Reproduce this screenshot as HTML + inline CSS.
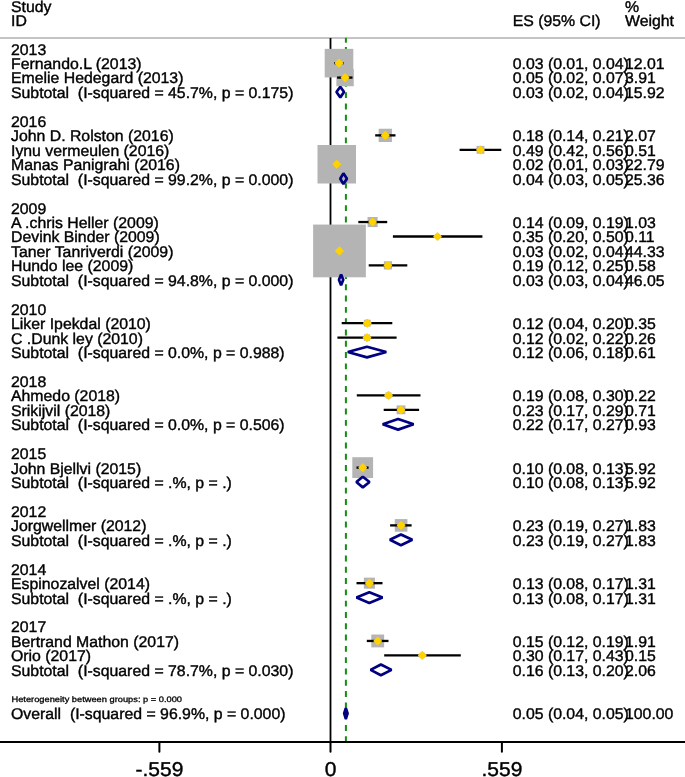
<!DOCTYPE html>
<html><head><meta charset="utf-8"><style>
html,body{margin:0;padding:0;background:#fff;}
svg{display:block;}
.t{opacity:0.999;}
text{font-family:"Liberation Sans",sans-serif;font-size:15.5px;fill:#000;white-space:pre;text-rendering:geometricPrecision;stroke:#000;stroke-width:0.4px;}
.tk{font-size:20px;}
.sm{font-size:8px;stroke-width:0.3px;}
</style></head><body>
<svg width="685" height="777" viewBox="0 0 685 777">
<rect x="0" y="37" width="685" height="2" fill="#c4c4c4"/>
<line x1="330.50" y1="38" x2="330.50" y2="742.00" stroke="#000" stroke-width="1.8"/>
<line x1="345.90" y1="37.8" x2="345.90" y2="42.7" stroke="#109010" stroke-width="2"/>
<line x1="345.90" y1="47.0" x2="345.90" y2="742.00" stroke="#109010" stroke-width="2" stroke-dasharray="5.9 5.4"/>
<rect x="324.70" y="48.85" width="28.60" height="28.60" fill="#b4b4b4"/>
<rect x="336.38" y="68.92" width="17.35" height="17.35" fill="#b4b4b4"/>
<rect x="378.66" y="128.73" width="13.28" height="13.28" fill="#b4b4b4"/>
<rect x="476.55" y="145.92" width="7.80" height="7.80" fill="#b4b4b4"/>
<rect x="317.50" y="145.01" width="38.49" height="38.49" fill="#b4b4b4"/>
<rect x="367.56" y="217.00" width="10.07" height="10.07" fill="#b4b4b4"/>
<rect x="435.05" y="234.03" width="4.91" height="4.91" fill="#b4b4b4"/>
<rect x="313.13" y="224.56" width="52.74" height="52.74" fill="#b4b4b4"/>
<rect x="383.82" y="261.30" width="8.16" height="8.16" fill="#b4b4b4"/>
<rect x="363.86" y="319.72" width="6.87" height="6.87" fill="#b4b4b4"/>
<rect x="363.87" y="334.47" width="6.25" height="6.25" fill="#b4b4b4"/>
<rect x="385.53" y="392.41" width="5.95" height="5.95" fill="#b4b4b4"/>
<rect x="396.61" y="405.44" width="8.77" height="8.77" fill="#b4b4b4"/>
<rect x="352.30" y="457.21" width="20.79" height="20.79" fill="#b4b4b4"/>
<rect x="394.79" y="519.07" width="12.63" height="12.63" fill="#b4b4b4"/>
<rect x="363.87" y="577.64" width="11.05" height="11.05" fill="#b4b4b4"/>
<rect x="371.28" y="634.52" width="12.85" height="12.85" fill="#b4b4b4"/>
<rect x="419.64" y="652.73" width="5.33" height="5.33" fill="#b4b4b4"/>
<line x1="334.20" y1="63.15" x2="343.60" y2="63.15" stroke="#000" stroke-width="2.3"/>
<line x1="337.10" y1="77.59" x2="352.50" y2="77.59" stroke="#000" stroke-width="2.3"/>
<line x1="375.20" y1="135.37" x2="395.50" y2="135.37" stroke="#000" stroke-width="2.3"/>
<line x1="459.60" y1="149.81" x2="501.30" y2="149.81" stroke="#000" stroke-width="2.3"/>
<line x1="333.70" y1="164.26" x2="339.80" y2="164.26" stroke="#000" stroke-width="2.3"/>
<line x1="358.30" y1="222.04" x2="387.20" y2="222.04" stroke="#000" stroke-width="2.3"/>
<line x1="392.90" y1="236.48" x2="482.40" y2="236.48" stroke="#000" stroke-width="2.3"/>
<line x1="336.70" y1="250.93" x2="342.90" y2="250.93" stroke="#000" stroke-width="2.3"/>
<line x1="368.70" y1="265.38" x2="407.30" y2="265.38" stroke="#000" stroke-width="2.3"/>
<line x1="341.70" y1="323.16" x2="392.30" y2="323.16" stroke="#000" stroke-width="2.3"/>
<line x1="337.40" y1="337.60" x2="396.60" y2="337.60" stroke="#000" stroke-width="2.3"/>
<line x1="356.80" y1="395.38" x2="420.50" y2="395.38" stroke="#000" stroke-width="2.3"/>
<line x1="383.70" y1="409.83" x2="419.10" y2="409.83" stroke="#000" stroke-width="2.3"/>
<line x1="356.50" y1="467.61" x2="368.60" y2="467.61" stroke="#000" stroke-width="2.3"/>
<line x1="390.10" y1="525.38" x2="411.60" y2="525.38" stroke="#000" stroke-width="2.3"/>
<line x1="356.50" y1="583.17" x2="382.50" y2="583.17" stroke="#000" stroke-width="2.3"/>
<line x1="366.80" y1="640.95" x2="388.50" y2="640.95" stroke="#000" stroke-width="2.3"/>
<line x1="384.20" y1="655.39" x2="460.80" y2="655.39" stroke="#000" stroke-width="2.3"/>
<polygon points="339.00,59.65 342.50,63.15 339.00,66.65 335.50,63.15" fill="#ffd200" stroke="#ffd200" stroke-width="1.6" stroke-linejoin="round"/>
<polygon points="345.05,74.09 348.55,77.59 345.05,81.09 341.55,77.59" fill="#ffd200" stroke="#ffd200" stroke-width="1.6" stroke-linejoin="round"/>
<polygon points="385.30,131.87 388.80,135.37 385.30,138.87 381.80,135.37" fill="#ffd200" stroke="#ffd200" stroke-width="1.6" stroke-linejoin="round"/>
<polygon points="480.45,146.31 483.95,149.81 480.45,153.31 476.95,149.81" fill="#ffd200" stroke="#ffd200" stroke-width="1.6" stroke-linejoin="round"/>
<polygon points="336.75,160.76 340.25,164.26 336.75,167.76 333.25,164.26" fill="#ffd200" stroke="#ffd200" stroke-width="1.6" stroke-linejoin="round"/>
<polygon points="372.60,218.54 376.10,222.04 372.60,225.54 369.10,222.04" fill="#ffd200" stroke="#ffd200" stroke-width="1.6" stroke-linejoin="round"/>
<polygon points="437.50,232.98 441.00,236.48 437.50,239.98 434.00,236.48" fill="#ffd200" stroke="#ffd200" stroke-width="1.6" stroke-linejoin="round"/>
<polygon points="339.50,247.43 343.00,250.93 339.50,254.43 336.00,250.93" fill="#ffd200" stroke="#ffd200" stroke-width="1.6" stroke-linejoin="round"/>
<polygon points="387.90,261.88 391.40,265.38 387.90,268.88 384.40,265.38" fill="#ffd200" stroke="#ffd200" stroke-width="1.6" stroke-linejoin="round"/>
<polygon points="367.30,319.66 370.80,323.16 367.30,326.66 363.80,323.16" fill="#ffd200" stroke="#ffd200" stroke-width="1.6" stroke-linejoin="round"/>
<polygon points="367.00,334.10 370.50,337.60 367.00,341.10 363.50,337.60" fill="#ffd200" stroke="#ffd200" stroke-width="1.6" stroke-linejoin="round"/>
<polygon points="388.50,391.88 392.00,395.38 388.50,398.88 385.00,395.38" fill="#ffd200" stroke="#ffd200" stroke-width="1.6" stroke-linejoin="round"/>
<polygon points="401.00,406.33 404.50,409.83 401.00,413.33 397.50,409.83" fill="#ffd200" stroke="#ffd200" stroke-width="1.6" stroke-linejoin="round"/>
<polygon points="362.70,464.11 366.20,467.61 362.70,471.11 359.20,467.61" fill="#ffd200" stroke="#ffd200" stroke-width="1.6" stroke-linejoin="round"/>
<polygon points="401.10,521.88 404.60,525.38 401.10,528.88 397.60,525.38" fill="#ffd200" stroke="#ffd200" stroke-width="1.6" stroke-linejoin="round"/>
<polygon points="369.40,579.67 372.90,583.17 369.40,586.67 365.90,583.17" fill="#ffd200" stroke="#ffd200" stroke-width="1.6" stroke-linejoin="round"/>
<polygon points="377.70,637.45 381.20,640.95 377.70,644.45 374.20,640.95" fill="#ffd200" stroke="#ffd200" stroke-width="1.6" stroke-linejoin="round"/>
<polygon points="422.30,651.89 425.80,655.39 422.30,658.89 418.80,655.39" fill="#ffd200" stroke="#ffd200" stroke-width="1.6" stroke-linejoin="round"/>
<polygon points="336.45,92.03 340.30,86.69 344.05,92.03 340.30,97.38" fill="none" stroke="#000080" stroke-width="2.7" stroke-linejoin="bevel"/>
<polygon points="340.25,178.70 343.40,173.35 346.95,178.70 343.40,184.05" fill="none" stroke="#000080" stroke-width="2.7" stroke-linejoin="bevel"/>
<polygon points="338.95,279.82 341.10,274.47 343.25,279.82 341.10,285.17" fill="none" stroke="#000080" stroke-width="2.7" stroke-linejoin="bevel"/>
<polygon points="347.80,352.05 367.00,346.70 386.30,352.05 367.00,357.40" fill="none" stroke="#000080" stroke-width="2.7" stroke-linejoin="bevel"/>
<polygon points="382.70,424.27 398.10,418.92 413.60,424.27 398.10,429.62" fill="none" stroke="#000080" stroke-width="2.7" stroke-linejoin="bevel"/>
<polygon points="356.40,482.05 362.80,476.70 369.50,482.05 362.80,487.40" fill="none" stroke="#000080" stroke-width="2.7" stroke-linejoin="bevel"/>
<polygon points="389.90,539.83 400.90,534.48 412.30,539.83 400.90,545.18" fill="none" stroke="#000080" stroke-width="2.7" stroke-linejoin="bevel"/>
<polygon points="356.50,597.61 369.30,592.26 382.50,597.61 369.30,602.96" fill="none" stroke="#000080" stroke-width="2.7" stroke-linejoin="bevel"/>
<polygon points="370.60,669.84 380.90,664.49 391.50,669.84 380.90,675.19" fill="none" stroke="#000080" stroke-width="2.7" stroke-linejoin="bevel"/>
<polygon points="344.15,713.40 345.85,708.05 347.60,713.40 345.85,718.75" fill="#000080" stroke="#000080" stroke-width="2.7" stroke-linejoin="bevel"/>
<rect x="0" y="741.00" width="685" height="2" fill="#000"/>
<line x1="159.40" y1="742.00" x2="159.40" y2="751.8" stroke="#000" stroke-width="2" stroke-linecap="round"/>
<line x1="330.50" y1="742.00" x2="330.50" y2="751.8" stroke="#000" stroke-width="2" stroke-linecap="round"/>
<line x1="501.90" y1="742.00" x2="501.90" y2="751.8" stroke="#000" stroke-width="2" stroke-linecap="round"/>
<g class="t">
<text class="tk" text-anchor="middle" transform="translate(159.40,776.3) scale(1.05,1)">-.559</text>
<text class="tk" text-anchor="middle" transform="translate(330.50,776.3) scale(1.05,1)">0</text>
<text class="tk" text-anchor="middle" transform="translate(501.90,776.3) scale(1.05,1)">.559</text>
<text transform="translate(11.00,54.60) scale(1.021,1)">2013</text>
<text transform="translate(11.00,69.05) scale(1.021,1)">Fernando.L (2013)</text>
<text transform="translate(512.70,69.05) scale(1.021,1)">0.03 (0.01, 0.04)</text>
<text transform="translate(625.00,69.05) scale(1.021,1)">12.01</text>
<text transform="translate(11.00,83.49) scale(1.021,1)">Emelie Hedegard (2013)</text>
<text transform="translate(512.70,83.49) scale(1.021,1)">0.05 (0.02, 0.07)</text>
<text transform="translate(625.00,83.49) scale(1.021,1)">3.91</text>
<text transform="translate(11.00,97.94) scale(1.021,1)">Subtotal  (I-squared = 45.7%, p = 0.175)</text>
<text transform="translate(512.70,97.94) scale(1.021,1)">0.03 (0.02, 0.04)</text>
<text transform="translate(625.00,97.94) scale(1.021,1)">15.92</text>
<text transform="translate(11.00,126.82) scale(1.021,1)">2016</text>
<text transform="translate(11.00,141.27) scale(1.021,1)">John D. Rolston (2016)</text>
<text transform="translate(512.70,141.27) scale(1.021,1)">0.18 (0.14, 0.21)</text>
<text transform="translate(625.00,141.27) scale(1.021,1)">2.07</text>
<text transform="translate(11.00,155.72) scale(1.021,1)">Iynu vermeulen (2016)</text>
<text transform="translate(512.70,155.72) scale(1.021,1)">0.49 (0.42, 0.56)</text>
<text transform="translate(625.00,155.72) scale(1.021,1)">0.51</text>
<text transform="translate(11.00,170.16) scale(1.021,1)">Manas Panigrahi (2016)</text>
<text transform="translate(512.70,170.16) scale(1.021,1)">0.02 (0.01, 0.03)</text>
<text transform="translate(625.00,170.16) scale(1.021,1)">22.79</text>
<text transform="translate(11.00,184.60) scale(1.021,1)">Subtotal  (I-squared = 99.2%, p = 0.000)</text>
<text transform="translate(512.70,184.60) scale(1.021,1)">0.04 (0.03, 0.05)</text>
<text transform="translate(625.00,184.60) scale(1.021,1)">25.36</text>
<text transform="translate(11.00,213.50) scale(1.021,1)">2009</text>
<text transform="translate(11.00,227.94) scale(1.021,1)">A .chris Heller (2009)</text>
<text transform="translate(512.70,227.94) scale(1.021,1)">0.14 (0.09, 0.19)</text>
<text transform="translate(625.00,227.94) scale(1.021,1)">1.03</text>
<text transform="translate(11.00,242.38) scale(1.021,1)">Devink Binder (2009)</text>
<text transform="translate(512.70,242.38) scale(1.021,1)">0.35 (0.20, 0.50)</text>
<text transform="translate(625.00,242.38) scale(1.021,1)">0.11</text>
<text transform="translate(11.00,256.83) scale(1.021,1)">Taner Tanriverdi (2009)</text>
<text transform="translate(512.70,256.83) scale(1.021,1)">0.03 (0.02, 0.04)</text>
<text transform="translate(625.00,256.83) scale(1.021,1)">44.33</text>
<text transform="translate(11.00,271.28) scale(1.021,1)">Hundo lee (2009)</text>
<text transform="translate(512.70,271.28) scale(1.021,1)">0.19 (0.12, 0.25)</text>
<text transform="translate(625.00,271.28) scale(1.021,1)">0.58</text>
<text transform="translate(11.00,285.72) scale(1.021,1)">Subtotal  (I-squared = 94.8%, p = 0.000)</text>
<text transform="translate(512.70,285.72) scale(1.021,1)">0.03 (0.03, 0.04)</text>
<text transform="translate(625.00,285.72) scale(1.021,1)">46.05</text>
<text transform="translate(11.00,314.61) scale(1.021,1)">2010</text>
<text transform="translate(11.00,329.06) scale(1.021,1)">Liker Ipekdal (2010)</text>
<text transform="translate(512.70,329.06) scale(1.021,1)">0.12 (0.04, 0.20)</text>
<text transform="translate(625.00,329.06) scale(1.021,1)">0.35</text>
<text transform="translate(11.00,343.50) scale(1.021,1)">C .Dunk ley (2010)</text>
<text transform="translate(512.70,343.50) scale(1.021,1)">0.12 (0.02, 0.22)</text>
<text transform="translate(625.00,343.50) scale(1.021,1)">0.26</text>
<text transform="translate(11.00,357.95) scale(1.021,1)">Subtotal  (I-squared = 0.0%, p = 0.988)</text>
<text transform="translate(512.70,357.95) scale(1.021,1)">0.12 (0.06, 0.18)</text>
<text transform="translate(625.00,357.95) scale(1.021,1)">0.61</text>
<text transform="translate(11.00,386.84) scale(1.021,1)">2018</text>
<text transform="translate(11.00,401.28) scale(1.021,1)">Ahmedo (2018)</text>
<text transform="translate(512.70,401.28) scale(1.021,1)">0.19 (0.08, 0.30)</text>
<text transform="translate(625.00,401.28) scale(1.021,1)">0.22</text>
<text transform="translate(11.00,415.73) scale(1.021,1)">Srikijvil (2018)</text>
<text transform="translate(512.70,415.73) scale(1.021,1)">0.23 (0.17, 0.29)</text>
<text transform="translate(625.00,415.73) scale(1.021,1)">0.71</text>
<text transform="translate(11.00,430.17) scale(1.021,1)">Subtotal  (I-squared = 0.0%, p = 0.506)</text>
<text transform="translate(512.70,430.17) scale(1.021,1)">0.22 (0.17, 0.27)</text>
<text transform="translate(625.00,430.17) scale(1.021,1)">0.93</text>
<text transform="translate(11.00,459.06) scale(1.021,1)">2015</text>
<text transform="translate(11.00,473.51) scale(1.021,1)">John Bjellvi (2015)</text>
<text transform="translate(512.70,473.51) scale(1.021,1)">0.10 (0.08, 0.13)</text>
<text transform="translate(625.00,473.51) scale(1.021,1)">5.92</text>
<text transform="translate(11.00,487.95) scale(1.021,1)">Subtotal  (I-squared = .%, p = .)</text>
<text transform="translate(512.70,487.95) scale(1.021,1)">0.10 (0.08, 0.13)</text>
<text transform="translate(625.00,487.95) scale(1.021,1)">5.92</text>
<text transform="translate(11.00,516.84) scale(1.021,1)">2012</text>
<text transform="translate(11.00,531.28) scale(1.021,1)">Jorgwellmer (2012)</text>
<text transform="translate(512.70,531.28) scale(1.021,1)">0.23 (0.19, 0.27)</text>
<text transform="translate(625.00,531.28) scale(1.021,1)">1.83</text>
<text transform="translate(11.00,545.73) scale(1.021,1)">Subtotal  (I-squared = .%, p = .)</text>
<text transform="translate(512.70,545.73) scale(1.021,1)">0.23 (0.19, 0.27)</text>
<text transform="translate(625.00,545.73) scale(1.021,1)">1.83</text>
<text transform="translate(11.00,574.62) scale(1.021,1)">2014</text>
<text transform="translate(11.00,589.07) scale(1.021,1)">Espinozalvel (2014)</text>
<text transform="translate(512.70,589.07) scale(1.021,1)">0.13 (0.08, 0.17)</text>
<text transform="translate(625.00,589.07) scale(1.021,1)">1.31</text>
<text transform="translate(11.00,603.51) scale(1.021,1)">Subtotal  (I-squared = .%, p = .)</text>
<text transform="translate(512.70,603.51) scale(1.021,1)">0.13 (0.08, 0.17)</text>
<text transform="translate(625.00,603.51) scale(1.021,1)">1.31</text>
<text transform="translate(11.00,632.40) scale(1.021,1)">2017</text>
<text transform="translate(11.00,646.85) scale(1.021,1)">Bertrand Mathon (2017)</text>
<text transform="translate(512.70,646.85) scale(1.021,1)">0.15 (0.12, 0.19)</text>
<text transform="translate(625.00,646.85) scale(1.021,1)">1.91</text>
<text transform="translate(11.00,661.29) scale(1.021,1)">Orio (2017)</text>
<text transform="translate(512.70,661.29) scale(1.021,1)">0.30 (0.17, 0.43)</text>
<text transform="translate(625.00,661.29) scale(1.021,1)">0.15</text>
<text transform="translate(11.00,675.74) scale(1.021,1)">Subtotal  (I-squared = 78.7%, p = 0.030)</text>
<text transform="translate(512.70,675.74) scale(1.021,1)">0.16 (0.13, 0.20)</text>
<text transform="translate(625.00,675.74) scale(1.021,1)">2.06</text>
<text transform="translate(11.00,719.10) scale(1.021,1)">Overall  (I-squared = 96.9%, p = 0.000)</text>
<text transform="translate(512.70,719.10) scale(1.021,1)">0.05 (0.04, 0.05)</text>
<text transform="translate(625.00,719.10) scale(1.021,1)">100.00</text>
<text transform="translate(11.00,12.10) scale(1.021,1)">Study</text>
<text transform="translate(11.00,25.80) scale(1.021,1)">ID</text>
<text transform="translate(512.70,25.80) scale(1.021,1)">ES (95% CI)</text>
<text transform="translate(625.00,12.10) scale(1.021,1)">%</text>
<text transform="translate(625.00,25.80) scale(1.021,1)">Weight</text>
<text class="sm" transform="translate(11.50,702.30) scale(1.16,1)">Heterogeneity between groups: p = 0.000</text>
</g>
</svg>
</body></html>
